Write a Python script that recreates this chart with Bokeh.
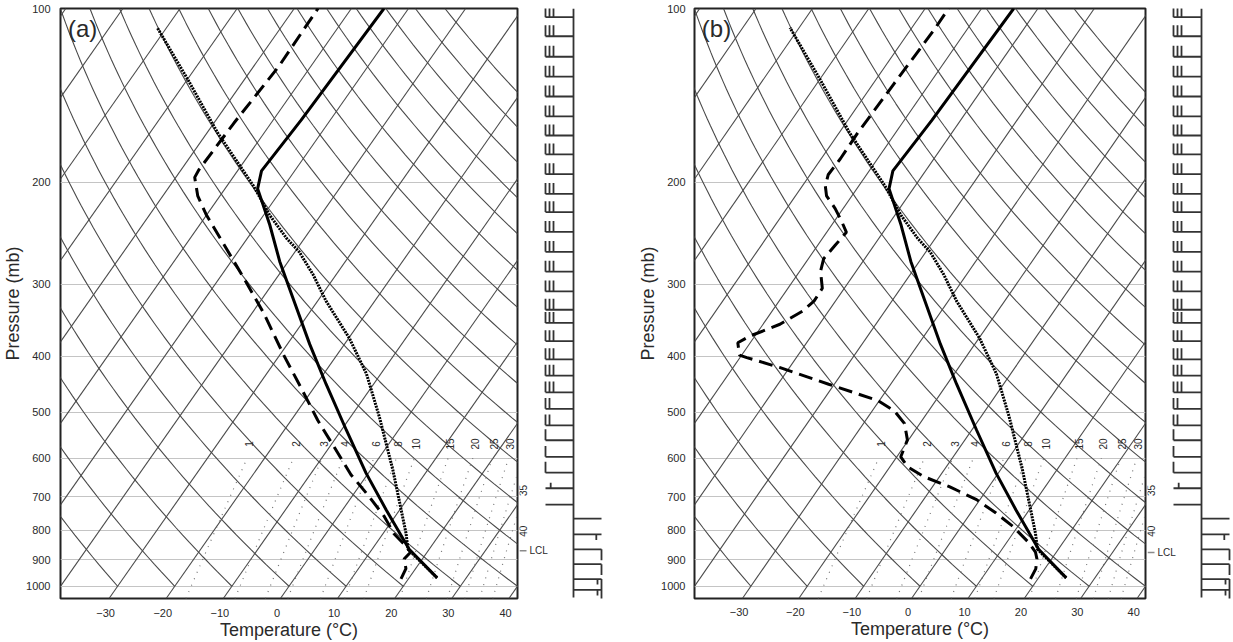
import numpy as np
from bokeh.plotting import figure
from bokeh.models import Range1d, FixedTicker, PrintfTickFormatter, Label
from bokeh.layouts import row
from bokeh.embed import file_html
from bokeh.resources import INLINE
from bokeh.core.properties import value

# ---------------- data ----------------
temp_ticks = [-30, -20, -10, 0, 10, 20, 30, 40]
pres_ticks = [100, 200, 300, 400, 500, 600, 700, 800, 900, 1000]
mix_ratios = [1, 2, 3, 4, 6, 8, 10, 15, 20, 25, 30, 35, 40]
isotherms = list(range(-150, 50, 10))
dry_adiabats = list(range(-30, 180, 10))

# panel (a)
p_temp_a = [967, 863, 737, 637, 537, 447, 381, 317, 274, 237, 205, 191, 156, 100]
t_temp_a = [24.9, 16.5, 7.6, -0.4, -9.1, -18.3, -26.1, -34.7, -41.5, -47.7, -54.3, -55.8, -55.1, -54.3]
p_parc_a = [967, 863, 809, 629, 510, 429, 372, 321, 289, 264, 250, 228, 203, 164, 133, 108]
t_parc_a = [24.9, 16.3, 13.95, 3.9, -4.9, -12.5, -19.9, -28.5, -34.0, -39.2, -43.1, -48.9, -55.3, -68.2, -79.8, -91.6]
p_dew_a = [971, 932, 897, 873, 845, 812, 757, 694, 641, 574, 516, 453, 398, 337, 293, 255, 227,
           211, 196, 190, 158, 126, 100]
t_dew_a = [18.7, 18.3, 16.8, 17.1, 14.95, 12.0, 8.1, 2.5, -2.85, -9.2, -15.35, -22.3, -29.3,
           -37.9, -45.7, -53.6, -60.2, -63.9, -66.7, -66.9, -66.5, -65.6, -65.85]
lcl_a = 868

# panel (b)
p_temp_b = p_temp_a
t_temp_b = t_temp_a
p_parc_b = p_parc_a
t_parc_b = t_parc_a
p_dew_b = [971, 933, 897, 873, 841, 787, 747, 708, 673, 646, 621, 597, 558, 523, 497, 477, 447,
           418, 402, 398, 379, 369, 352, 334, 321, 305, 285, 271, 257, 244, 234, 222, 211, 203,
           194, 182, 164, 135, 109, 100]
t_dew_b = [18.7, 18.4, 17.4, 16.3, 14.0, 9.05, 4.5, -0.6, -6.9, -12.8, -16.9, -19.3, -20.2, -22.7,
           -26.1, -30.3, -41.0, -51.8, -58.8, -60.4, -62.2, -60.9, -57.0, -54.6, -53.8, -53.9,
           -56.3, -57.3, -56.9, -56.5, -58.6, -61.4, -64.5, -65.9, -66.8, -66.6, -66.7, -66.3,
           -65.8, -65.85]
lcl_b = 874

# winds (pressure levels, speed in kt, direction in deg)
wind_p = [103.5, 111.7, 121.2, 131.2, 142.0, 153.7, 165.9, 178.8, 193.5, 209.4, 225.1,
          243.6, 263.7, 285.4, 308.8, 332.2, 350.1, 376.4, 404.7, 432.1, 461.6, 493.1,
          526.6, 558.8, 596.9, 635.9, 676.6, 722.5, 763.6, 813.4, 863.2, 915.8, 971.7, 1014.9]
wind_spd_a = [30, 30, 30, 30, 30, 30, 30, 30, 30, 30, 30,
              30, 30, 30, 30, 30, 30, 30, 30, 30, 30, 20,
              20, 10, 10, 10, 5, 2, 2, 5, 10, 10, 15, 15]
wind_dir_a = [270] * 28 + [90] * 6
wind_spd_b = wind_spd_a
wind_dir_b = wind_dir_a

# ---------------- geometry / style ----------------
K = 30.8
P_BOT, P_TOP = 1050, 100
FRAME_W, FRAME_H = 458, 595
PX_PER_LN = FRAME_H / np.log(P_BOT / P_TOP)
TOP_B, BOT_B = 8, 39
FONT = "Liberation Sans"
FONT_VALUE = value(FONT)
GRID_C = "#4a4a4a"
TXT_C = "#2a2a2a"


def skx(T, p):
    return np.asarray(T, dtype=float) + K * np.log(1000.0 / np.asarray(p, dtype=float))


def t_from_w(w, p):
    e = w * p / (622.0 + w)
    a = np.log(e / 6.112)
    return 243.5 * a / (17.67 - a)


def edge_p(w):
    pg = np.linspace(1000, 600, 801)
    xx = skx(t_from_w(w, pg), pg)
    return float(pg[np.argmin(np.abs(xx - 39.1))])


def skew_panel(tag, pt, tt, pp, tp, pd, td, left_border, label_standoff):
    f = figure(width=left_border + FRAME_W + 2, height=FRAME_H + TOP_B + BOT_B,
               x_range=Range1d(-40, 40), y_range=Range1d(P_BOT, P_TOP),
               y_axis_type="log", output_backend="svg", toolbar_location=None,
               min_border_left=left_border, min_border_right=2,
               min_border_top=TOP_B, min_border_bottom=BOT_B)
    f.outline_line_color = "#222222"
    f.outline_line_width = 2
    f.xgrid.visible = False
    f.ygrid.ticker = FixedTicker(ticks=pres_ticks)
    f.ygrid.grid_line_color = "#c4c4c4"
    f.ygrid.grid_line_width = 1.2

    # isotherms
    f.multi_line([list(skx([T, T], [P_BOT, P_TOP])) for T in isotherms],
                 [[P_BOT, P_TOP] for _ in isotherms], line_color=GRID_C, line_width=1.1)
    # dry adiabats
    pa = np.exp(np.linspace(np.log(1000), np.log(P_TOP), 80))
    xs, ys = [], []
    for th in dry_adiabats:
        T = (th + 273.15) * (pa / 1000.0) ** 0.2857 - 273.15
        xs.append(list(skx(T, pa)))
        ys.append(list(pa))
    f.multi_line(xs, ys, line_color=GRID_C, line_width=1.1)
    # mixing ratio lines
    pm = np.linspace(P_BOT, 600, 30)
    xs, ys = [], []
    for w in mix_ratios:
        xs.append(list(skx(t_from_w(w, pm), pm)))
        ys.append(list(pm))
    f.multi_line(xs, ys, line_color="#777777", line_width=1.2, line_dash="1 6")
    for w in mix_ratios:
        xl = float(skx(t_from_w(w, 588.0), 588.0))
        if xl <= 40:
            f.add_layout(Label(x=xl, y=567, text=str(w), angle=np.pi / 2, text_align="center",
                               text_baseline="middle", text_font_size="10px", text_font=FONT,
                               text_color=TXT_C))

    # sounding
    f.line(skx(tp, pp), pp, line_color="black", line_width=3, line_dash="2 1")
    f.line(skx(td, pd), pd, line_color="black", line_width=3, line_dash="14 7")
    f.line(skx(tt, pt), pt, line_color="black", line_width=3)

    f.add_layout(Label(x=-38.7, y=102.5, text=tag, text_baseline="top", text_align="left",
                       text_font_size="24px", text_font=FONT, text_color=TXT_C))

    # axes
    f.xaxis.ticker = FixedTicker(ticks=[t - 2.1 for t in temp_ticks])
    f.xaxis.major_label_overrides = {t - 2.1: str(t).replace("-", "\u2212") for t in temp_ticks}
    f.xaxis.axis_label = "Temperature (\u00b0C)"
    f.yaxis.ticker = FixedTicker(ticks=pres_ticks)
    f.yaxis.formatter = PrintfTickFormatter(format="%d")
    f.yaxis.axis_label = "Pressure (mb)"
    for ax in (f.xaxis[0], f.yaxis[0]):
        ax.axis_line_color = None
        ax.major_tick_line_color = None
        ax.minor_tick_line_color = None
        ax.major_label_text_font = FONT
        ax.major_label_text_font_size = "11px"
        ax.major_label_text_color = TXT_C
        ax.axis_label_text_font = FONT
        ax.axis_label_text_font_size = "18px"
        ax.axis_label_text_font_style = "normal"
        ax.axis_label_text_color = TXT_C
        ax.major_label_standoff = label_standoff
        ax.axis_label_standoff = 0
    return f


POLE = 54
STAFF, FULL, HALF, SP = 28, 11, 5.5, 4


def barb_panel(width, levels, spd, dirs, lcl):
    f = figure(width=width, height=FRAME_H + TOP_B + BOT_B,
               x_range=Range1d(0, width), y_range=Range1d(P_BOT, P_TOP),
               y_axis_type="log", output_backend="svg", toolbar_location=None,
               x_axis_location=None, y_axis_location=None,
               min_border_left=0, min_border_right=0,
               min_border_top=TOP_B, min_border_bottom=BOT_B)
    f.outline_line_color = None
    f.grid.visible = False

    def yp(p, dy):
        return p * np.exp(-dy / PX_PER_LN)

    xs, ys = [], []
    xs.append([POLE, POLE]); ys.append([P_TOP, 1046])
    for p, s, d in zip(levels, spd, dirs):
        th = np.deg2rad(d)
        dx, dy = np.sin(th), np.cos(th)
        tipx, tipy = POLE + STAFF * dx, STAFF * dy
        xs.append([POLE, tipx]); ys.append([p, yp(p, tipy)])
        bx, by = dy, -dx
        s5 = int(round(s / 5.0)) * 5
        n10 = s5 // 10
        n5 = (s5 - 10 * n10) // 5
        pos = 0.0
        for k in range(n10):
            ax_, ay_ = tipx - pos * dx, tipy - pos * dy
            xs.append([ax_, ax_ + FULL * bx]); ys.append([yp(p, ay_), yp(p, ay_ + FULL * by)])
            pos += SP
        if n5:
            if pos == 0:
                pos = SP * 1.3
            ax_, ay_ = tipx - pos * dx, tipy - pos * dy
            xs.append([ax_, ax_ + HALF * bx]); ys.append([yp(p, ay_), yp(p, ay_ + HALF * by)])
    f.multi_line(xs, ys, line_color="#333333", line_width=1.8)

    # LCL marker just outside the diagram frame
    f.segment(x0=[0], y0=[lcl], x1=[7], y1=[lcl], line_color="#8a8a8a", line_width=1.5)
    f.text(x=[10], y=[lcl], text=["LCL"], text_font_size="10px", text_font=FONT_VALUE,
           text_baseline="middle", text_align="left", text_color=TXT_C)
    # labels of the mixing-ratio lines that leave through the right edge
    big = [w for w in mix_ratios if float(skx(t_from_w(w, 588.0), 588.0)) > 40]
    f.text(x=[3.8] * len(big), y=[edge_p(w) for w in big], text=[str(w) for w in big],
           angle=np.pi / 2, text_font_size="10px", text_font=FONT_VALUE,
           text_baseline="middle", text_align="center", text_color=TXT_C)
    return f


skA = skew_panel("(a)", p_temp_a, t_temp_a, p_parc_a, t_parc_a, p_dew_a, t_dew_a, 59, 4)
bA = barb_panel(116, wind_p, wind_spd_a, wind_dir_a, lcl_a)
skB = skew_panel("(b)", p_temp_b, t_temp_b, p_parc_b, t_parc_b, p_dew_b, t_dew_b, 52, 3)
bB = barb_panel(86, wind_p, wind_spd_b, wind_dir_b, lcl_b)

layout = row(skA, bA, skB, bB, spacing=0)
open("out.html", "w").write(file_html(layout, INLINE))
